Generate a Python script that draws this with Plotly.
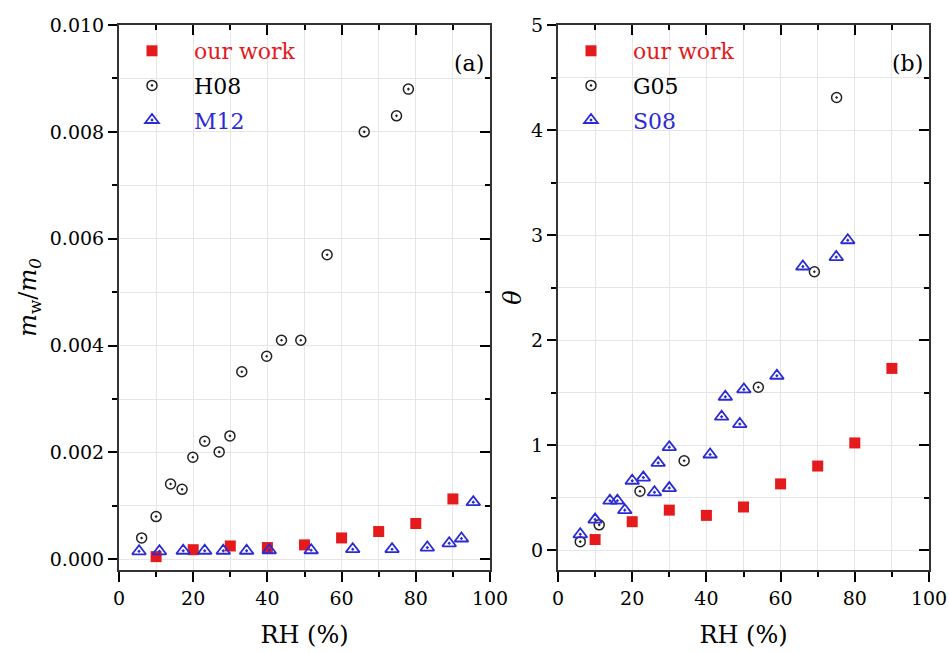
import plotly.graph_objects as go

# ---- panel (a) data ----
rh_our = [10, 20, 30, 40, 50, 60, 70, 80, 90]
mw_our = [0.00005, 0.00018, 0.00025, 0.00022, 0.00027, 0.00040, 0.00052, 0.00067, 0.00113]

rh_h08 = [6.1, 10, 13.9, 17, 19.9, 23.1, 27, 29.9, 33.1, 39.8, 43.8, 49, 56.1, 66.1, 74.8, 78]
mw_h08 = [0.0004, 0.0008, 0.00141, 0.00131, 0.00191, 0.00221, 0.00201, 0.00231, 0.00351,
          0.0038, 0.0041, 0.0041, 0.0057, 0.0080, 0.0083, 0.0088]

rh_m12 = [5.4, 10.9, 17.3, 23.1, 28.1, 34.4, 40.5, 51.8, 63, 73.6, 83.1, 89, 92.3, 95.5]
mw_m12 = [0.00015, 0.00015, 0.00016, 0.00016, 0.00016, 0.00016, 0.00017, 0.00017,
          0.00019, 0.00019, 0.00022, 0.00030, 0.00039, 0.00107]

# ---- panel (b) data ----
rh_our_b = [10, 20, 30, 40, 50, 60, 70, 80, 90]
th_our = [0.10, 0.27, 0.38, 0.33, 0.41, 0.63, 0.80, 1.02, 1.73]

rh_g05 = [6, 11.1, 22.1, 34, 54, 69.1, 75.1]
th_g05 = [0.08, 0.24, 0.56, 0.85, 1.55, 2.65, 4.31]

rh_s08 = [6, 10, 14, 16, 18, 20, 23, 26, 27, 30, 30, 41, 44.1, 45.1, 49, 50.1, 59, 66, 75, 78.1]
th_s08 = [0.15, 0.29, 0.47, 0.47, 0.38, 0.66, 0.69, 0.55, 0.83, 0.59, 0.98, 0.91, 1.27,
          1.46, 1.20, 1.53, 1.66, 2.70, 2.79, 2.95]

RED = "#e41a1c"
BLUE = "#2b2bd6"
FONT = "DejaVu Serif, serif"

W, H = 949, 652
xa_dom = [119 / W, 490 / W]
xb_dom = [558 / W, 929 / W]
y_dom = [(H - 570) / H, (H - 25) / H]

fig = go.Figure()

def sq(x, y, xa, ya, name, leg, grp):
    return go.Scatter(x=x, y=y, mode="markers", xaxis=xa, yaxis=ya, name=name, legend=leg,
                      legendgroup=grp,
                      marker=dict(symbol="square", size=11, color=RED, line=dict(width=0)))

def circ(x, y, xa, ya, name, leg, grp):
    return go.Scatter(x=x, y=y, mode="markers", xaxis=xa, yaxis=ya, name=name, legend=leg,
                      legendgroup=grp,
                      marker=dict(symbol="circle-open-dot", size=10, color="#222222",
                                  line=dict(width=1.5, color="#222222")))

def tri(x, y, xa, ya, name, leg, grp):
    return go.Scatter(x=x, y=y, mode="markers", xaxis=xa, yaxis=ya, name=name, legend=leg,
                      legendgroup=grp,
                      marker=dict(symbol="triangle-up-open-dot", size=12, color=BLUE,
                                  line=dict(width=1.8, color=BLUE)))

fig.add_trace(sq(rh_our, mw_our, "x", "y", f'<span style="color:{RED}">our work</span>', "legend", "a1"))
fig.add_trace(circ(rh_h08, mw_h08, "x", "y", "H08", "legend", "a2"))
fig.add_trace(tri(rh_m12, mw_m12, "x", "y", f'<span style="color:{BLUE}">M12</span>', "legend", "a3"))

fig.add_trace(sq(rh_our_b, th_our, "x2", "y2", f'<span style="color:{RED}">our work</span>', "legend2", "b1"))
fig.add_trace(circ(rh_g05, th_g05, "x2", "y2", "G05", "legend2", "b2"))
fig.add_trace(tri(rh_s08, th_s08, "x2", "y2", f'<span style="color:{BLUE}">S08</span>', "legend2", "b3"))

# empty traces for mirrored inside-tick axes
for xa, ya in [("x3", "y3"), ("x4", "y4")]:
    fig.add_trace(go.Scatter(x=[], y=[], xaxis=xa, yaxis=ya, showlegend=False))

tickfont = dict(family=FONT, size=19, color="black")
titlefont = dict(family=FONT, size=24, color="black")
GRID = "#e6e6e6"

def xmain(dom, anchor):
    return dict(domain=dom, anchor=anchor, range=[0, 100], dtick=20, tick0=0, automargin=False,
                ticks="outside", ticklen=10, tickwidth=1.5, tickcolor="black",
                showline=True, linewidth=2, linecolor="#333333", mirror=True,
                showgrid=True, gridcolor=GRID, gridwidth=1, zeroline=False,
                minor=dict(dtick=10, ticks="outside", ticklen=5, tickwidth=1.5, tickcolor="black",
                           showgrid=True, gridcolor=GRID, gridwidth=1),
                tickfont=tickfont, ticklabeloverflow="allow",
                title=dict(text="RH (%)", font=titlefont, standoff=18))

def ymain(dom, anchor, rng, dtick, minor, title, fmt, standoff):
    return dict(domain=dom, anchor=anchor, range=rng, dtick=dtick, tick0=0, automargin=False,
                ticks="outside", ticklen=9, tickwidth=1.5, tickcolor="black",
                showline=True, linewidth=2, linecolor="#333333", mirror=True,
                showgrid=True, gridcolor=GRID, gridwidth=1, zeroline=False,
                minor=dict(dtick=minor, ticks="outside", ticklen=5, tickwidth=1.5, tickcolor="black",
                           showgrid=True, gridcolor=GRID, gridwidth=1),
                tickfont=tickfont, tickformat=fmt, ticklabeloverflow="allow",
                title=dict(text=title, font=titlefont, standoff=standoff))

def xmirror(over, anchor):
    return dict(overlaying=over, anchor=anchor, side="top", range=[0, 100], dtick=20, tick0=0,
                automargin=False,
                ticks="inside", ticklen=10, tickwidth=1.5, tickcolor="black",
                showticklabels=False, showgrid=False, zeroline=False, showline=False,
                minor=dict(dtick=10, ticks="inside", ticklen=5, tickwidth=1.5, tickcolor="black"))

def ymirror(over, anchor, rng, dtick, minor):
    return dict(overlaying=over, anchor=anchor, side="right", range=rng, dtick=dtick, tick0=0,
                automargin=False,
                ticks="inside", ticklen=10, tickwidth=1.5, tickcolor="black",
                showticklabels=False, showgrid=False, zeroline=False, showline=False,
                minor=dict(dtick=minor, ticks="inside", ticklen=5, tickwidth=1.5, tickcolor="black"))

yl_rng = [-0.0002, 0.010]
yr_rng = [-0.19, 5]

legend_common = dict(font=dict(family=FONT, size=22, color="black"), bgcolor="rgba(0,0,0,0)",
                     xanchor="left", yanchor="top", itemwidth=74, tracegroupgap=3)

fig.update_layout(
    width=W, height=H, margin=dict(l=0, r=0, t=0, b=0, autoexpand=False),
    paper_bgcolor="white", plot_bgcolor="white",
    font=dict(family=FONT, size=19, color="black"),
    xaxis=xmain(xa_dom, "y"),
    yaxis=ymain(y_dom, "x", yl_rng, 0.002, 0.001,
                "<i>m</i><sub>w</sub>/<i>m</i><sub><i>0</i></sub>", ".3f", 6),
    xaxis2=xmain(xb_dom, "y2"),
    yaxis2=ymain(y_dom, "x2", yr_rng, 1, 0.5, "<i>θ</i>", "d", 3),
    xaxis3=xmirror("x", "y"),
    yaxis3=ymirror("y", "x", yl_rng, 0.002, 0.001),
    xaxis4=xmirror("x2", "y2"),
    yaxis4=ymirror("y2", "x2", yr_rng, 1, 0.5),
    legend=dict(x=110 / W, y=1 - 30 / H, **legend_common),
    legend2=dict(x=549 / W, y=1 - 30 / H, **legend_common),
    showlegend=True,
    annotations=[
        dict(text="(a)", x=486 / W, y=1 - 64 / H, xref="paper", yref="paper",
             xanchor="right", yanchor="middle", showarrow=False,
             font=dict(family=FONT, size=22, color="black")),
        dict(text="(b)", x=925 / W, y=1 - 64 / H, xref="paper", yref="paper",
             xanchor="right", yanchor="middle", showarrow=False,
             font=dict(family=FONT, size=22, color="black")),
    ],
)

fig.write_html("out.html")
